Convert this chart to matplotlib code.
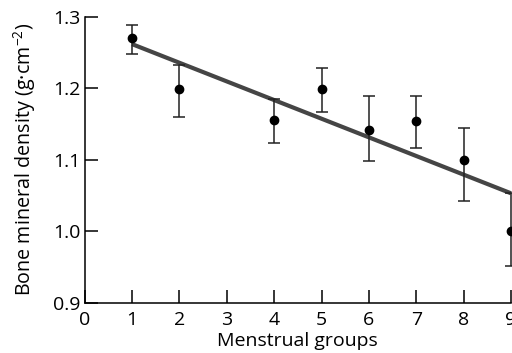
import matplotlib
matplotlib.use("Agg")
import matplotlib.pyplot as plt
import numpy as np

plt.rcParams['font.family'] = ['Open Sans', 'DejaVu Sans']
plt.rcParams['mathtext.fontset'] = 'custom'
plt.rcParams['mathtext.rm'] = 'Open Sans'
plt.rcParams['mathtext.it'] = 'Open Sans'

groups = [1, 2, 4, 5, 6, 7, 8, 9]
bmd = [1.270, 1.199, 1.156, 1.199, 1.142, 1.154, 1.099, 1.000]
err_hi = [1.289, 1.233, 1.185, 1.228, 1.189, 1.190, 1.145, 1.053]
err_lo = [1.248, 1.160, 1.124, 1.167, 1.098, 1.116, 1.042, 0.951]
fit_x = [1, 9]
fit_y = [1.262, 1.053]

xticks = [0, 1, 2, 3, 4, 5, 6, 7, 8, 9]
yticks = [0.9, 1.0, 1.1, 1.2, 1.3]
ytick_labels = ['0.9', '1.0', '1.1', '1.2', '1.3']

fig = plt.figure(figsize=(5.12, 3.53), dpi=100)
ax = fig.add_axes([84.7/512, (353-302.5)/353, (511-84.7)/512, (302.5-17)/353])

ax.plot(fit_x, fit_y, color='#454545', lw=3.0, solid_capstyle='butt', clip_on=False, zorder=2)
yerr = [np.array(bmd) - np.array(err_lo), np.array(err_hi) - np.array(bmd)]
eb = ax.errorbar(groups, bmd, yerr=yerr, fmt='o', color='black', ms=6, elinewidth=1.1,
                 capsize=4.6, capthick=1.1, ecolor='#222222', zorder=3, clip_on=False)
for art in eb.lines[1] + eb.lines[2]:
    art.set_clip_on(False)
eb.lines[0].set_clip_on(False)

ax.set_xlim(0, 9)
ax.set_ylim(0.9, 1.3)
ax.set_xticks(xticks)
ax.set_yticks(yticks)
ax.set_yticklabels(ytick_labels)
ax.spines['top'].set_visible(False)
ax.spines['right'].set_visible(False)
for s in ['left', 'bottom']:
    ax.spines[s].set_linewidth(1.1)
ax.tick_params(direction='in', length=9.3, width=1.1, labelsize=14, pad=3)
ax.tick_params(axis='x', pad=6)
ax.set_xlabel('Menstrual groups', fontsize=14, labelpad=2)
ax.set_ylabel('Bone mineral density (g·cm$^{-2}$)', fontsize=14.2, labelpad=11)

fig.savefig('out.png', dpi=100)
